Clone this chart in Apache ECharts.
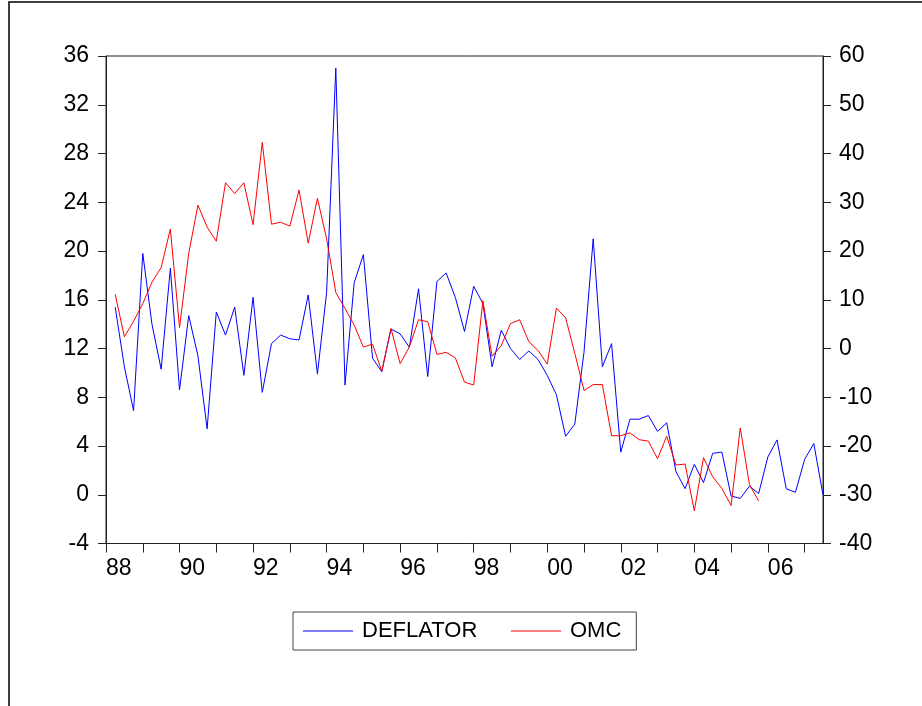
<!DOCTYPE html>
<html>
<head>
<meta charset="utf-8">
<script src="https://cdn.jsdelivr.net/npm/echarts@6/dist/echarts.min.js"></script>
<style>
  html, body { margin: 0; padding: 0; background: #ffffff; }
  #chart { width: 922px; height: 706px; }
</style>
</head>
<body>
<div id="chart"></div>
<script>
// Quarterly series, first observation 1988Q1
const firstYear = 1988;

const deflator = [
  15.4, 10.5, 6.9, 19.8, 14.0, 10.3, 18.6, 8.6, 14.7, 11.4,
  5.4, 15.0, 13.1, 15.4, 9.8, 16.2, 8.4, 12.4, 13.1, 12.8,
  12.7, 16.4, 9.9, 16.6, 35.0, 9.0, 17.4, 19.7, 11.2, 10.1,
  13.6, 13.2, 12.1, 16.9, 9.7, 17.5, 18.2, 16.2, 13.4, 17.1,
  15.7, 10.5, 13.5, 12.0, 11.1, 11.8, 11.1, 9.8, 8.2, 4.8,
  5.8, 11.7, 21.0, 10.5, 12.4, 3.5, 6.2, 6.2, 6.5, 5.2,
  5.9, 1.9, 0.5, 2.5, 1.0, 3.4, 3.5, -0.1, -0.3, 0.7,
  0.1, 3.1, 4.5, 0.5, 0.2, 2.9, 4.2, 0.0
];

const omc = [
  11.1, 2.4, 5.6, 9.2, 13.6, 16.6, 24.5, 4.3, 19.5, 29.4,
  24.9, 22.0, 34.0, 31.8, 34.0, 25.4, 42.3, 25.5, 25.9, 25.1,
  32.5, 21.6, 30.8, 22.5, 11.5, 8.2, 4.8, 0.3, 0.9, -4.7,
  4.1, -3.1, 0.3, 5.9, 5.5, -1.2, -0.8, -1.9, -6.9, -7.5,
  9.8, -1.6, 0.6, 5.1, 5.9, 1.4, -0.4, -3.2, 8.3, 6.3,
  -1.0, -8.6, -7.4, -7.4, -17.9, -17.9, -17.3, -18.7, -19.0, -22.6,
  -18.0, -23.9, -23.7, -33.3, -22.4, -26.3, -28.7, -32.2, -16.3, -27.9,
  -31.3
];

// Year ticks on the time axis, and the years that carry a label
const tickYears = [1988, 1989, 1990, 1991, 1992, 1993, 1994, 1995, 1996, 1997,
                   1998, 1999, 2000, 2001, 2002, 2003, 2004, 2005, 2006, 2007];
const labelYears = [1988, 1990, 1992, 1994, 1996, 1998, 2000, 2002, 2004, 2006];
const labelText = ['88', '90', '92', '94', '96', '98', '00', '02', '04', '06'];

// Quarter names; each observation sits at the end of its quarter
const quarters = deflator.map((_, i) => (firstYear + Math.floor(i / 4)) + 'Q' + (i % 4 + 1));
const quarterPos = q => Number(q.slice(0, 4)) + Number(q.slice(5)) / 4;

const deflatorData = deflator.map((v, i) => [quarterPos(quarters[i]), v]);
const omcData = omc.map((v, i) => [quarterPos(quarters[i]), v]);

const FONT = "'Liberation Sans', Arial, sans-serif";
const AXIS_COLOR = '#222';
const LABEL_SIZE = 23;

const chart = echarts.init(document.getElementById('chart'), null, { renderer: 'canvas' });

chart.setOption({
  animation: false,
  backgroundColor: '#ffffff',
  graphic: [{
    type: 'rect',
    silent: true,
    shape: { x: 9, y: 2, width: 2000, height: 2000 },
    style: { fill: 'none', stroke: '#000', lineWidth: 1.5 }
  }],
  grid: {
    left: 106, right: 99, top: 56, bottom: 162.5,
    show: true, borderColor: AXIS_COLOR, borderWidth: 1,
    backgroundColor: 'transparent'
  },
  legend: {
    left: 293, top: 612,
    padding: [8, 15, 8, 10],
    icon: 'rect',
    itemWidth: 50, itemHeight: 1, itemGap: 18,
    borderColor: '#444', borderWidth: 1,
    textStyle: { fontSize: 22, fontFamily: FONT, color: '#000', padding: [0, 0, 0, 4], lineHeight: 22 },
    data: [
      { name: 'DEFLATOR', textStyle: { width: 131 } },
      { name: 'OMC', textStyle: { width: 51 } }
    ]
  },
  xAxis: {
    type: 'value',
    min: 1988, max: 2007.5,
    splitLine: { show: false },
    axisLine: { show: true, onZero: false, lineStyle: { color: AXIS_COLOR, width: 1 } },
    axisTick: { show: true, inside: false, length: 9, customValues: tickYears,
                lineStyle: { color: AXIS_COLOR, width: 1 } },
    axisLabel: {
      customValues: labelYears,
      formatter: v => labelText[labelYears.indexOf(Math.round(v))] || '',
      align: 'left', margin: 14,
      fontSize: LABEL_SIZE, fontFamily: FONT, color: '#000'
    }
  },
  yAxis: [{
    type: 'value', position: 'left',
    min: -4, max: 36, interval: 4,
    splitLine: { show: false },
    axisLine: { show: true, onZero: false, lineStyle: { color: AXIS_COLOR, width: 1 } },
    axisTick: { show: true, inside: false, length: 8, lineStyle: { color: AXIS_COLOR } },
    axisLabel: { margin: 17, fontSize: LABEL_SIZE, fontFamily: FONT, color: '#000' }
  }, {
    type: 'value', position: 'right',
    min: -40, max: 60, interval: 10,
    splitLine: { show: false },
    axisLine: { show: true, onZero: false, lineStyle: { color: AXIS_COLOR, width: 1 } },
    axisTick: { show: true, inside: false, length: 8, lineStyle: { color: AXIS_COLOR } },
    axisLabel: { margin: 16, fontSize: LABEL_SIZE, fontFamily: FONT, color: '#000' }
  }],
  series: [{
    name: 'DEFLATOR',
    type: 'line',
    yAxisIndex: 0,
    data: deflatorData,
    symbol: 'none',
    color: '#0000ff',
    lineStyle: { color: '#0000ff', width: 1 }
  }, {
    name: 'OMC',
    type: 'line',
    yAxisIndex: 1,
    data: omcData,
    symbol: 'none',
    color: '#ff0000',
    lineStyle: { color: '#ff0000', width: 1 }
  }]
});
</script>
</body>
</html>
